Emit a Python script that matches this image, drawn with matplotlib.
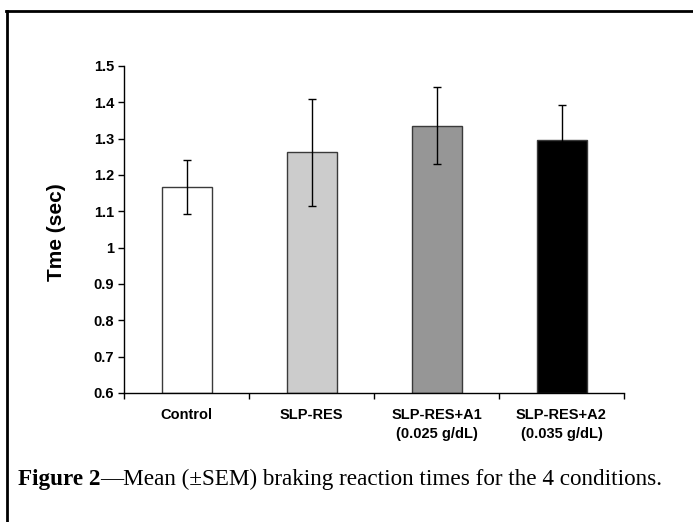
import matplotlib
matplotlib.use("Agg")
import matplotlib.pyplot as plt
from matplotlib.lines import Line2D

categories = ["Control", "SLP-RES", "SLP-RES+A1\n(0.025 g/dL)", "SLP-RES+A2\n(0.035 g/dL)"]
means = [1.167, 1.263, 1.336, 1.297]
sems = [0.073, 0.147, 0.107, 0.095]
bar_colors = ["#FFFFFF", "#CCCCCC", "#969696", "#000000"]
yticks = [0.6, 0.7, 0.8, 0.9, 1.0, 1.1, 1.2, 1.3, 1.4, 1.5]
ytick_labels = ["0.6", "0.7", "0.8", "0.9", "1", "1.1", "1.2", "1.3", "1.4", "1.5"]

W, H = 693, 522
fig = plt.figure(figsize=(W / 100, H / 100), dpi=100)
ax = fig.add_axes([124 / W, 1 - 393 / H, (624 - 124) / W, (393 - 66) / H])

x = list(range(len(categories)))
ax.bar(x, [m - 0.6 for m in means], bottom=0.6, width=0.4, color=bar_colors,
       edgecolor="#3a3a3a", linewidth=1.0, zorder=2)
ax.errorbar(x, means, yerr=sems, fmt="none", ecolor="black", elinewidth=1.0,
            capsize=3, capthick=1.0, zorder=3)

ax.set_xlim(-0.5, 3.5)
ax.set_ylim(0.6, 1.5)
ax.set_yticks(yticks)
ax.set_yticklabels(ytick_labels)
ax.set_xticks([-0.5, 0.5, 1.5, 2.5, 3.5])
ax.set_xticklabels([])
ax.set_xticks(x, minor=True)
ax.set_xticklabels(categories, minor=True)
ax.tick_params(axis="x", which="minor", length=0, pad=11)
ax.tick_params(axis="x", which="major", length=4, width=1, direction="out")
ax.tick_params(axis="y", length=4, width=1, direction="out", pad=3)
for lab in ax.get_yticklabels():
    lab.set_fontfamily("Liberation Sans")
    lab.set_fontweight("bold")
    lab.set_fontsize(10.5)
for lab in ax.get_xticklabels(minor=True):
    lab.set_fontfamily("Liberation Sans")
    lab.set_fontweight("bold")
    lab.set_fontsize(10.5)
    lab.set_linespacing(1.45)
for s in ["top", "right"]:
    ax.spines[s].set_visible(False)
for s in ["left", "bottom"]:
    ax.spines[s].set_linewidth(1.0)

fig.text(57 / W, 1 - 232 / H, "Tme (sec)", rotation=90, ha="center", va="center",
         family="Liberation Sans", fontweight="bold", fontsize=15)

# frame lines (left and top)
fig.add_artist(Line2D([7 / W, 7 / W], [0, 1 - 11 / H], transform=fig.transFigure,
                      color="black", linewidth=2))
fig.add_artist(Line2D([6 / W, 1], [1 - 11 / H, 1 - 11 / H], transform=fig.transFigure,
                      color="black", linewidth=2))

t1 = fig.text(18 / W, 1 - 479 / H, "Figure 2", ha="left", va="center",
              family="Liberation Serif", fontweight="bold", fontsize=16.7)
ax.annotate("\u2014Mean (\u00b1SEM) braking reaction times for the 4 conditions.",
            xy=(1, 0), xycoords=t1, ha="left", va="bottom",
            family="Liberation Serif", fontsize=16.7, annotation_clip=False)

fig.savefig("out.png", dpi=100)
